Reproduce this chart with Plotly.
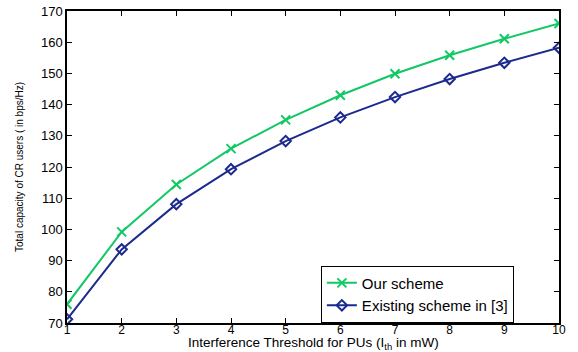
import plotly.graph_objects as go

x_vals = [1, 2, 3, 4, 5, 6, 7, 8, 9, 10]
our_scheme = [76.0, 99.2, 114.4, 125.9, 135.1, 143.0, 149.9, 155.8, 161.1, 166.0]
existing_scheme = [71.2, 93.6, 108.1, 119.3, 128.3, 135.9, 142.4, 148.2, 153.4, 158.2]
x_ticks = [1, 2, 3, 4, 5, 6, 7, 8, 9, 10]
y_ticks = [70, 80, 90, 100, 110, 120, 130, 140, 150, 160, 170]

green = "#12c865"
blue = "#1b2a8e"
font_main = "Liberation Sans, Arial, Helvetica"

fig = go.Figure()
fig.add_trace(go.Scatter(
    x=x_vals, y=our_scheme, name="Our scheme", mode="lines+markers",
    line=dict(color=green, width=2),
    marker=dict(symbol="x-thin", size=9, line=dict(color=green, width=2), color=green),
))
fig.add_trace(go.Scatter(
    x=x_vals, y=existing_scheme, name="Existing scheme in [3]", mode="lines+markers",
    line=dict(color=blue, width=2),
    marker=dict(symbol="diamond-open", size=8, line=dict(color=blue, width=2), color=blue),
))

axis_common = dict(
    showline=True, linecolor="black", linewidth=1.5, mirror="ticks",
    ticks="inside", ticklen=5, tickcolor="black", showgrid=False, zeroline=False,
    automargin=False,
)

fig.update_layout(
    width=578, height=352,
    margin=dict(l=67, r=19, t=11, b=29),
    plot_bgcolor="white", paper_bgcolor="white",
    showlegend=True,
    legend=dict(
        x=0.516, y=0.184, xanchor="left", yanchor="top",
        bgcolor="white", bordercolor="black", borderwidth=1,
        font=dict(family=font_main, size=15, color="black"),
        tracegroupgap=0, itemwidth=30,
    ),
    xaxis=dict(range=[1, 10], tickvals=x_ticks, ticklabelstandoff=-5,
               tickfont=dict(family=font_main, size=12, color="black"), **axis_common),
    yaxis=dict(range=[70, 170], tickvals=y_ticks,
               tickfont=dict(family=font_main, size=13, color="black"), **axis_common),
    annotations=[
        dict(
            text="Interference Threshold for PUs (I<sub>th</sub> in mW)",
            xref="paper", yref="paper", x=0.5, y=-0.0673,
            xanchor="center", yanchor="middle", showarrow=False,
            font=dict(family=font_main, size=13.5, color="black"),
        ),
        dict(
            text="Total capacity of CR users ( in bps/Hz)",
            xref="paper", yref="paper", x=-0.0976, y=0.5, textangle=-90,
            xanchor="center", yanchor="middle", showarrow=False,
            font=dict(family=font_main, size=10, color="black"),
        ),
    ],
)

fig.write_html("out.html", config={"displayModeBar": False},
               post_script="document.body.style.margin='0';")
